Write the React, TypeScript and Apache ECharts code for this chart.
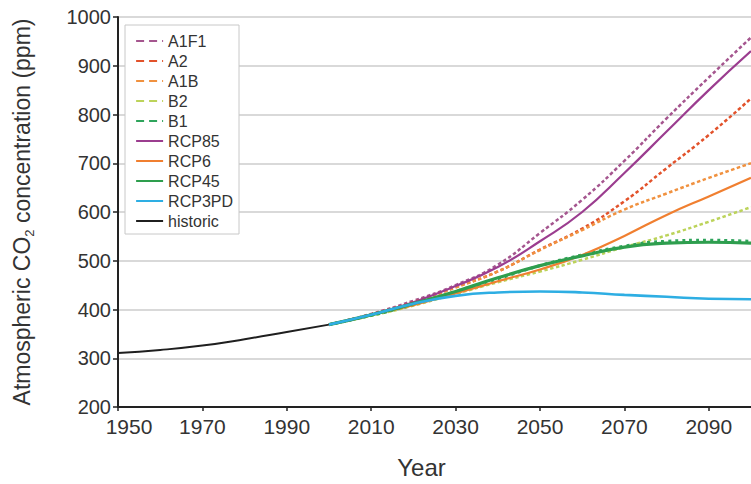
import React, { useEffect, useRef } from "react";
import * as echarts from "echarts";

const scenarioYears = [2000, 2010, 2020, 2030, 2040, 2050, 2060, 2070, 2080, 2090, 2100];
const historicYears = [1950, 1960, 1970, 1980, 1990, 2000];
const tickYears = [1950, 1970, 1990, 2010, 2030, 2050, 2070, 2090];

const historic = [311, 317, 326, 339, 354, 369];
const a1f1 = [369, 391, 418, 450, 492, 557, 625, 705, 792, 876, 958];
const a2 = [369, 390, 415, 446, 478, 523, 566, 622, 690, 758, 833];
const a1b = [369, 389, 413, 445, 478, 522, 563, 605, 638, 670, 700];
const b2 = [369, 387, 408, 432, 456, 478, 502, 528, 552, 580, 610];
const b1 = [369, 388, 410, 437, 463, 490, 512, 530, 540, 542, 540];
const rcp85 = [369, 389, 415, 448, 487, 540, 600, 680, 765, 850, 930];
const rcp6 = [369, 389, 409, 433, 458, 482, 512, 551, 594, 632, 670];
const rcp45 = [369, 389, 412, 437, 465, 490, 510, 528, 536, 538, 536];
const rcp3pd = [369, 389, 412, 428, 435, 437, 435, 430, 426, 422, 421];

const legendOrder = ["A1F1", "A2", "A1B", "B2", "B1", "RCP85", "RCP6", "RCP45", "RCP3PD", "historic"];

const pairs = (xs: number[], ys: number[]) => xs.map((x, i) => [x, ys[i]]);

export default function App() {
  const ref = useRef<HTMLDivElement>(null);
  useEffect(() => {
    if (!ref.current) return;
    const chart = echarts.init(ref.current, null, { renderer: "svg" });
    const font = "'Liberation Sans', Arial, sans-serif";
    const dashed = (name: string, ys: number[], color: string, width = 2.5, type: any = [3.5, 2.5]) => ({
      name,
      type: "line",
      data: pairs(scenarioYears, ys),
      smooth: true,
      symbol: "none",
      lineStyle: { color, width, type },
      itemStyle: { color },
      z: 3,
    });
    const solid = (name: string, ys: number[], color: string, width = 2.2, z = 4) => ({
      name,
      type: "line",
      data: pairs(scenarioYears, ys),
      smooth: true,
      symbol: "none",
      lineStyle: { color, width, type: "solid" },
      itemStyle: { color },
      z,
    });
    const series: any[] = [
      {
        name: "historic",
        type: "line",
        data: pairs(historicYears, historic),
        smooth: true,
        symbol: "none",
        lineStyle: { color: "#1f1f1f", width: 2 },
        itemStyle: { color: "#1f1f1f" },
        z: 2,
      },
      dashed("A1F1", a1f1, "#a5568f"),
      dashed("A2", a2, "#e2522b"),
      dashed("A1B", a1b, "#f0913f"),
      dashed("B2", b2, "#bcd35a"),
      dashed("B1", b1, "#2fa45c", 3, [3, 4]),
      solid("RCP85", rcp85, "#9b3d8f"),
      solid("RCP6", rcp6, "#f07f30"),
      solid("RCP45", rcp45, "#2e9e4e", 3.2),
      solid("RCP3PD", rcp3pd, "#2eaee3", 2.6, 5),
    ];
    const dashedNames = ["A1F1", "A2", "A1B", "B2", "B1"];
    const plain = (v: number) => String(v);
    const option: any = {
      animation: false,
      textStyle: { fontFamily: font },
      grid: { left: 113, top: 17, right: -5, bottom: 76, containLabel: false },
      legend: {
        orient: "vertical",
        left: 125,
        top: 25,
        padding: [8, 6, 5, 10],
        itemGap: 4,
        itemWidth: 27,
        itemHeight: 14,
        backgroundColor: "#ffffff",
        borderColor: "#c8c8c8",
        borderWidth: 1,
        itemStyle: { opacity: 0 },
        textStyle: { fontSize: 16, color: "#333", lineHeight: 16, fontFamily: font },
        data: legendOrder.map((n) =>
          dashedNames.includes(n)
            ? { name: n, lineStyle: { type: [8, 5], width: 2.2 } }
            : { name: n }
        ),
      },
      xAxis: {
        type: "value",
        min: 1950,
        max: 2100,
        axisLine: { lineStyle: { color: "#222", width: 2 } },
        axisTick: { show: true, length: 4, customValues: tickYears, lineStyle: { color: "#222", width: 1.5 } },
        axisLabel: {
          customValues: tickYears,
          formatter: (v: number) => (v === tickYears[0] ? "{first|" + v + "}" : String(v)),
          rich: { first: { fontSize: 21, color: "#333", padding: [0, 0, 0, 22], fontFamily: font } },
          fontSize: 21,
          color: "#333",
          margin: 9,
          fontFamily: font,
        },
        splitLine: { show: false },
        name: "Year",
        nameLocation: "middle",
        nameGap: 48,
        nameTextStyle: { fontSize: 24, color: "#333", padding: [0, 26, 0, 0], fontFamily: font },
      },
      yAxis: {
        type: "value",
        min: 200,
        max: 1000,
        interval: 100,
        axisLine: { show: true, lineStyle: { color: "#222", width: 2 } },
        axisTick: { show: true, length: 5, lineStyle: { color: "#222", width: 1.5 } },
        axisLabel: { formatter: plain, fontSize: 20, color: "#333", margin: 7, fontFamily: font },
        splitLine: { show: true, lineStyle: { color: "#cccccc", width: 1.5 } },
        name: "Atmospheric CO{sub|2} concentration (ppm)",
        nameLocation: "middle",
        nameGap: 82,
        nameTextStyle: {
          fontSize: 23,
          color: "#333",
          fontFamily: font,
          lineHeight: 28,
          rich: {
            sub: { fontSize: 13, color: "#333", verticalAlign: "bottom", lineHeight: 13, fontFamily: font },
          },
        },
      },
      series,
    };
    chart.setOption(option);
    return () => chart.dispose();
  }, []);
  return <div ref={ref} style={{ width: 751, height: 484, position: "absolute", left: 0, top: 0 }} />;
}
